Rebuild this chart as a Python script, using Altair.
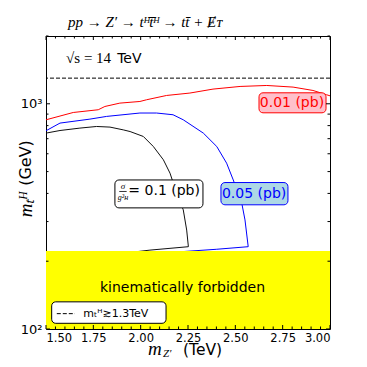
import altair as alt
import pandas as pd

# ---- data ----
red_x = [1.5, 1.644, 1.776, 1.811, 1.890, 1.996, 2.031, 2.137, 2.260, 2.382, 2.525, 2.666, 2.805, 2.910, 2.982, 3.0]
red_y = [849, 915, 941, 973, 1007, 1024, 1042, 1089, 1116, 1162, 1194, 1206, 1186, 1146, 1097, 1085]

blue_x = [1.5, 1.574, 1.732, 1.820, 1.996, 2.084, 2.171, 2.225, 2.331, 2.402, 2.454, 2.489, 2.534, 2.551, 2.568, 2.402, 2.2]
blue_y = [759, 821, 855, 879, 910, 910, 894, 849, 741, 646, 545, 459, 362, 305, 232, 226, 220]

black_x = [1.5, 1.574, 1.679, 1.767, 1.838, 1.908, 1.944, 2.014, 2.067, 2.120, 2.155, 2.190, 2.225, 2.243, 2.252, 2.049, 1.95]
black_y = [741, 761, 780, 793, 788, 766, 753, 716, 646, 564, 492, 401, 338, 275, 232, 224, 219]

forbidden_top = 222
limit_mass = 1300

x_major = [1.5, 1.75, 2.0, 2.25, 2.5, 2.75, 3.0]
x_minor = [1.55, 1.6, 1.65, 1.7, 1.8, 1.85, 1.9, 1.95, 2.05, 2.1, 2.15, 2.2,
           2.3, 2.35, 2.4, 2.45, 2.55, 2.6, 2.65, 2.7, 2.8, 2.85, 2.9, 2.95]
y_major = [100, 1000]
y_minor = [200, 300, 400, 500, 600, 700, 800, 900, 2000]

W, H = 284, 293
xs = alt.Scale(domain=[1.5, 3.0], nice=False, zero=False)
ys = alt.Scale(type="log", domain=[100, 2000], nice=False)

sans = "DejaVu Sans"
serif = "Liberation Serif"

x_axis = alt.Axis(values=x_major, format=".2f", labelFontSize=11.5, labelFont=sans,
                  labelColor="black", ticks=False, domain=False, grid=False, title=None, labelPadding=3)
y_axis = alt.Axis(values=y_major, labelExpr="datum.value == 100 ? '10²' : '10³'", labelFontSize=13,
                  labelFont=sans, labelColor="black", ticks=False, domain=False, grid=False,
                  title=None, labelPadding=4)


def X(f="x"):
    return alt.X(f"{f}:Q", scale=xs, axis=x_axis)


def Y(f="y"):
    return alt.Y(f"{f}:Q", scale=ys, axis=y_axis)


rows = []
for name, xx, yy in [("red", red_x, red_y), ("blue", blue_x, blue_y), ("black", black_x, black_y)]:
    for i, (a, b) in enumerate(zip(xx, yy)):
        rows.append({"x": a, "y": b, "s": name, "i": i})
curves_df = pd.DataFrame(rows)

curves = alt.Chart(curves_df).mark_line(strokeWidth=1).encode(
    x=X("x"), y=Y("y"),
    color=alt.Color("s:N", scale=alt.Scale(domain=["red", "blue", "black"],
                                           range=["#ff0000", "#0000ff", "#111111"]), legend=None),
    detail="s:N", order="i:Q")

yellow = alt.Chart(pd.DataFrame({"x": [1.5], "x2": [3.0], "y": [100], "y2": [forbidden_top]})).mark_rect(
    color="#ffff00").encode(x=X("x"), x2="x2:Q", y=Y("y"), y2="y2:Q")

dashed = alt.Chart(pd.DataFrame({"y": [limit_mass]})).mark_rule(
    color="black", strokeWidth=1, strokeDash=[4, 2]).encode(y=Y("y"))

boxes_df = pd.DataFrame({
    "x": [2.625, 2.424, 1.864, 1.530],
    "x2": [2.979, 2.778, 2.329, 2.134],
    "y": [912, 356, 345, 106],
    "y2": [1119, 447, 459, 132],
    "fill": ["#ffc0cb", "#add8e6", "#ffffff", "#ffffff"],
    "stroke": ["#ff0000", "#0000ff", "#000000", "#000000"],
})
boxes = alt.Chart(boxes_df).mark_rect(cornerRadius=4, strokeWidth=1).encode(
    x=X("x"), x2="x2:Q", y=Y("y"), y2="y2:Q",
    fill=alt.Fill("fill:N", scale=None), stroke=alt.Stroke("stroke:N", scale=None))

lab_df = pd.DataFrame({"x": [2.799, 2.599], "y": [1010, 398], "t": ["0.01 (pb)", "0.05 (pb)"],
                       "c": ["#ff0000", "#0000ff"]})
labels = alt.Chart(lab_df).mark_text(fontSize=14, font=sans, align="center", baseline="middle").encode(
    x=X("x"), y=Y("y"), text="t:N", color=alt.Color("c:N", scale=None))

frac_top = alt.Chart(pd.DataFrame({"x": [1.907], "y": [432], "t": ["σ"]})).mark_text(
    fontSize=9, font=serif, fontStyle="italic", align="center", baseline="middle").encode(
    x=X("x"), y=Y("y"), text="t:N")
frac_bot = alt.Chart(pd.DataFrame({"x": [1.907], "y": [383], "t": ["g²ʜ"]})).mark_text(
    fontSize=8, font=serif, fontStyle="italic", align="center", baseline="middle").encode(
    x=X("x"), y=Y("y"), text="t:N")
frac_bar = alt.Chart(pd.DataFrame({"x": [1.887], "x2": [1.926], "y": [408]})).mark_rule(
    color="black", strokeWidth=0.8).encode(x=X("x"), x2="x2:Q", y=Y("y"))
frac_rest = alt.Chart(pd.DataFrame({"x": [1.935], "y": [410], "t": ["= 0.1 (pb)"]})).mark_text(
    fontSize=14, font=sans, align="left", baseline="middle").encode(x=X("x"), y=Y("y"), text="t:N")

sqrt_s = alt.Chart(pd.DataFrame({"x": [1.606], "y": [1520], "t": ["√s = 14"]})).mark_text(
    fontSize=15, font=serif, align="left", baseline="alphabetic").encode(x=X("x"), y=Y("y"), text="t:N")
tev = alt.Chart(pd.DataFrame({"x": [1.876], "y": [1520], "t": ["TeV"]})).mark_text(
    fontSize=14, font=sans, align="left", baseline="alphabetic").encode(x=X("x"), y=Y("y"), text="t:N")

forb = alt.Chart(pd.DataFrame({"x": [2.221], "y": [146], "t": ["kinematically forbidden"]})).mark_text(
    fontSize=14, font=sans, align="center", baseline="alphabetic").encode(x=X("x"), y=Y("y"), text="t:N")

leg_line = alt.Chart(pd.DataFrame({"x": [1.557], "x2": [1.653], "y": [117]})).mark_rule(
    color="black", strokeWidth=1, strokeDash=[4, 2]).encode(x=X("x"), x2="x2:Q", y=Y("y"))
leg_text = alt.Chart(pd.DataFrame({"x": [1.697], "y": [117], "t": ["mₜᴴ≳1.3TeV"]})).mark_text(
    fontSize=11, font=sans, align="left", baseline="middle").encode(x=X("x"), y=Y("y"), text="t:N")

# inward ticks
xmaj_df = pd.DataFrame({"x": x_major})
xmin_df = pd.DataFrame({"x": x_minor})
ymaj_df = pd.DataFrame({"y": y_major})
ymin_df = pd.DataFrame({"y": y_minor})
tk = dict(color="black", strokeWidth=1)
ticks = [
    alt.Chart(xmaj_df).mark_rule(**tk).encode(x=X("x"), y=alt.value(H), y2=alt.value(H - 4)),
    alt.Chart(xmaj_df).mark_rule(**tk).encode(x=X("x"), y=alt.value(0), y2=alt.value(4)),
    alt.Chart(xmin_df).mark_rule(**tk).encode(x=X("x"), y=alt.value(H), y2=alt.value(H - 2.5)),
    alt.Chart(xmin_df).mark_rule(**tk).encode(x=X("x"), y=alt.value(0), y2=alt.value(2.5)),
    alt.Chart(ymaj_df).mark_rule(**tk).encode(y=Y("y"), x=alt.value(0), x2=alt.value(4)),
    alt.Chart(ymaj_df).mark_rule(**tk).encode(y=Y("y"), x=alt.value(W), x2=alt.value(W - 4)),
    alt.Chart(ymin_df).mark_rule(**tk).encode(y=Y("y"), x=alt.value(0), x2=alt.value(2.5)),
    alt.Chart(ymin_df).mark_rule(**tk).encode(y=Y("y"), x=alt.value(W), x2=alt.value(W - 2.5)),
]

# titles outside the plot area
one = pd.DataFrame({"k": [0]})
title = alt.Chart(one).mark_text(
    text="pp → Z′ → tᴴt̅ᴴ → tt̄ + Ɇᴛ", font=serif, fontStyle="italic", fontSize=15,
    align="left", baseline="alphabetic").encode(x=alt.value(22), y=alt.value(-9))
xt_m = alt.Chart(one).mark_text(text="m", font=serif, fontStyle="italic", fontSize=19,
                                align="left", baseline="alphabetic").encode(x=alt.value(102), y=alt.value(319))
xt_z = alt.Chart(one).mark_text(text="Z′", font=serif, fontStyle="italic", fontSize=11,
                                align="left", baseline="alphabetic").encode(x=alt.value(117), y=alt.value(321))
xt_u = alt.Chart(one).mark_text(text="(TeV)", font=sans, fontSize=15.5,
                                align="left", baseline="alphabetic").encode(x=alt.value(137), y=alt.value(319))
yt_u = alt.Chart(one).mark_text(text="(GeV)", font=sans, fontSize=16, angle=270,
                                align="center", baseline="middle").encode(x=alt.value(-20), y=alt.value(127))
yt_m = alt.Chart(one).mark_text(text="mₜᴴ", font=serif, fontStyle="italic", fontSize=19, angle=270,
                                align="center", baseline="middle").encode(x=alt.value(-20), y=alt.value(169))

chart = alt.layer(
    curves, yellow, dashed, boxes, labels, frac_top, frac_bot, frac_bar, frac_rest,
    sqrt_s, tev, forb, leg_line, leg_text, *ticks, title, xt_m, xt_z, xt_u, yt_u, yt_m
).properties(
    width=W, height=H, autosize="none",
    padding={"left": 38, "top": 28, "right": 29, "bottom": 30},
    background="white",
).configure_view(stroke="black", strokeWidth=1)

chart.save("out.html", embed_options={"renderer": "svg", "actions": False})
